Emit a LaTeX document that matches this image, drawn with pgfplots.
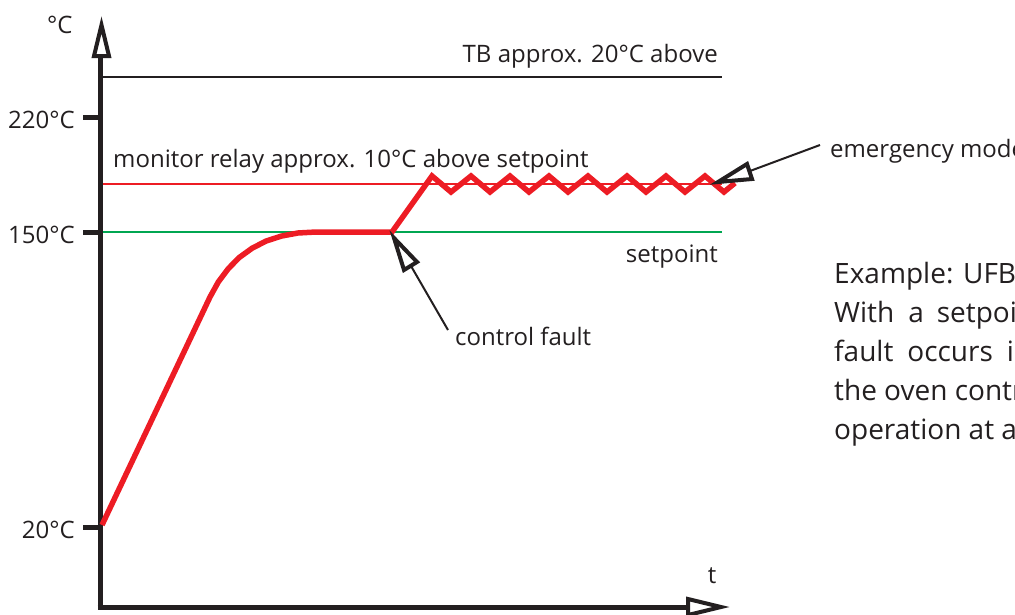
\documentclass[border=0pt]{standalone}
\usepackage{pgfplots}
\pgfplotsset{compat=1.18}
\usepackage{fontspec}
\setmainfont{Open Sans}
\definecolor{cred}{HTML}{ED1C24}
\definecolor{cgreen}{HTML}{00A651}
\definecolor{cblack}{HTML}{231F20}
\begin{document}
\begin{tikzpicture}
\begin{axis}[name=ax, hide axis, scale only axis, width=1015pt, height=614pt,
  xmin=0, xmax=1015, ymin=0, ymax=614, y dir=reverse, clip=false]
% reference lines
\addplot[cblack, line width=2.5pt] coordinates {(100,77) (722,77)};
\addplot[cred, line width=2pt] coordinates {(100,184) (722,184)};
\addplot[cgreen, line width=2.5pt] coordinates {(100,232) (722,232)};
% axes
\addplot[cblack, line width=5pt] coordinates {(100,56) (100,607)};
\addplot[cblack, line width=5pt] coordinates {(97.5,607) (688,607)};
\addplot[cblack, line width=4pt, fill=white, line join=miter] coordinates {(94,56) (101.5,25) (109,56)} -- cycle;
\addplot[cblack, line width=4pt, fill=white, line join=miter] coordinates {(688,599) (721,607) (688,615)} -- cycle;
% ticks
\addplot[cblack, line width=5pt] coordinates {(83,117) (100,117)};
\addplot[cblack, line width=5pt] coordinates {(83,232) (100,232)};
\addplot[cblack, line width=5pt] coordinates {(83,527) (100,527)};
% temperature curve
\addplot[cred, line width=5.5pt, line join=miter] coordinates {
(102,525) (210,297) (218.4,281.8) (228.3,268.6) (239.4,257.4) (252,248.3)
(265.9,241.1) (281.3,236.1) (297.9,233) (316,232) (392,232) (432,176)
(451,192) (471,176) (490,192) (510,176) (529,192) (549,176) (568,192)
(588,176) (607,192) (627,176) (646,192) (666,176) (685,192) (705,176)
(724,192) (735,183)};
% annotation arrows
\addplot[cblack, line width=2pt] coordinates {(411,266) (448,330)};
\addplot[cblack, line width=4pt, fill=white, line join=miter] coordinates {(394,238) (404,270) (417,262)} -- cycle;
\addplot[cblack, line width=2pt] coordinates {(750,171) (820,145)};
\addplot[cblack, line width=4pt, fill=white, line join=miter] coordinates {(718,182) (747,164) (752,179)} -- cycle;
% texts
\begin{scope}[every node/.style={inner sep=0pt, text=cblack, font=\fontsize{24}{28}\selectfont}]
\node[anchor=base east] at (axis cs:75,128) {220°C};
\node[anchor=base east] at (axis cs:75,243) {150°C};
\node[anchor=base east] at (axis cs:75,538) {20°C};
\node[anchor=base west] at (axis cs:47,33) {°C};
\node[anchor=base] at (axis cs:712,583) {t};
\node[anchor=base east] at (axis cs:718,62) {TB approx. 20°C above};
\node[anchor=base west] at (axis cs:113,167) {monitor relay approx. 10°C above setpoint};
\node[anchor=base east] at (axis cs:718,262) {setpoint};
\node[anchor=base west] at (axis cs:455,345) {control fault};
\node[anchor=base west] at (axis cs:830,157) {emergency mode};
\end{scope}
\begin{scope}[every node/.style={inner sep=0pt, text=cblack, font=\fontsize{28}{34}\selectfont}]
\node[anchor=base west] at (axis cs:834,283) {Example: UFB 400};
\node[anchor=base west] at (axis cs:834,322) {With\hspace{14pt}a\hspace{13pt}setpoint\hspace{13pt}of\hspace{13pt}150°C,};
\node[anchor=base west] at (axis cs:834,361) {fault\hspace{14pt}occurs\hspace{14pt}in\hspace{14pt}the\hspace{14pt}controller,};
\node[anchor=base west] at (axis cs:834,400) {the oven controller continues};
\node[anchor=base west] at (axis cs:834,439) {operation at approx. 160°C.};
\end{scope}
\end{axis}
\pgfresetboundingbox
\path (ax.south west) rectangle (ax.north east);
\end{tikzpicture}
\end{document}
